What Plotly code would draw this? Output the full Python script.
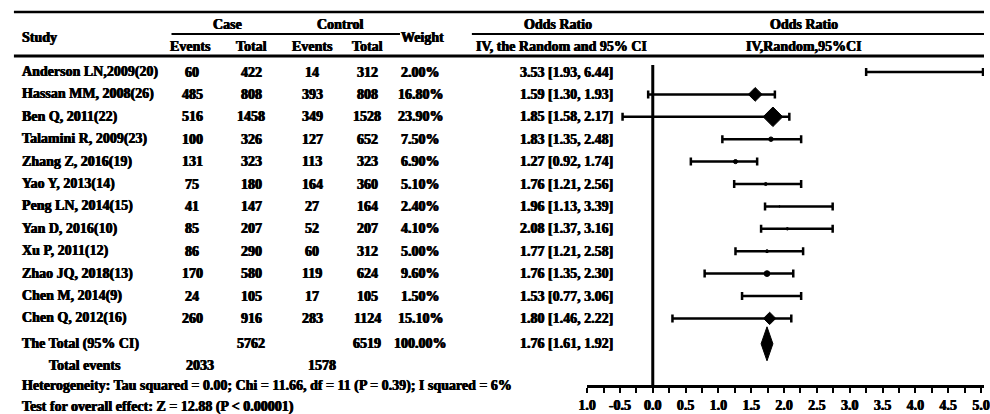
import plotly.graph_objects as go

# ---------------- data ----------------
studies = ["Anderson LN,2009(20)", "Hassan MM, 2008(26)", "Ben Q, 2011(22)",
           "Talamini R, 2009(23)", "Zhang Z, 2016(19)", "Yao Y, 2013(14)",
           "Peng LN, 2014(15)", "Yan D, 2016(10)", "Xu P, 2011(12)",
           "Zhao JQ, 2018(13)", "Chen M, 2014(9)", "Chen Q, 2012(16)"]
case_events = [60, 485, 516, 100, 131, 75, 41, 85, 86, 170, 24, 260]
case_total = [422, 808, 1458, 326, 323, 180, 147, 207, 290, 580, 105, 916]
ctrl_events = [14, 393, 349, 127, 113, 164, 27, 52, 60, 119, 17, 283]
ctrl_total = [312, 808, 1528, 652, 323, 360, 164, 207, 312, 624, 105, 1124]
weights = [2.00, 16.80, 23.90, 7.50, 6.90, 5.10, 2.40, 4.10, 5.00, 9.60, 1.50, 15.10]
or_text = ["3.53 [1.93, 6.44]", "1.59 [1.30, 1.93]", "1.85 [1.58, 2.17]",
           "1.83 [1.35, 2.48]", "1.27 [0.92, 1.74]", "1.76 [1.21, 2.56]",
           "1.96 [1.13, 3.39]", "2.08 [1.37, 3.16]", "1.77 [1.21, 2.58]",
           "1.76 [1.35, 2.30]", "1.53 [0.77, 3.06]", "1.80 [1.46, 2.22]"]
# positions as drawn in the plot panel
plot_est = [3.46, 1.56, 1.83, 1.80, 1.26, 1.72, 1.93, 2.05, 1.74, 1.74, 1.53, 1.78]
plot_lo = [3.25, -0.07, -0.46, 1.06, 0.58, 1.24, 1.71, 1.65, 1.26, 0.79, 1.36, 0.30]
plot_hi = [5.03, 1.86, 2.08, 2.26, 1.59, 2.26, 2.74, 2.74, 2.29, 2.14, 2.26, 2.11]

total_label = "The Total (95% CI)"
total_case = 5762
total_ctrl = 6519
total_weight = "100.00%"
total_or_text = "1.76 [1.61, 1.92]"
total_est, total_lo, total_hi = 1.74, 1.65, 1.83
events_case = 2033
events_ctrl = 1578
hetero_text = "Heterogeneity: Tau squared = 0.00; Chi = 11.66, df = 11 (P = 0.39); I squared = 6%"
overall_text = "Test for overall effect: Z = 12.88 (P < 0.00001)"

tick_vals = [-1.0 + 0.25 * k for k in range(25)]
tick_labels = ["1.0", "-0.5", "0.0", "0.5", "1.0", "1.5", "2.0", "2.5",
               "3.0", "3.5", "4.0", "4.5", "5.0"]

# ---------------- layout helpers ----------------
W, H = 990, 414
AXIS_Y = 385          # pixel row of the x axis
ROW0, ROWH = 72, 22.4
FONT = "Liberation Serif"
FS = 14
HEAVY = "0.4px 0 0 #000, -0.4px 0 0 #000"


def row_y(i):
    return ROW0 + ROWH * i


def px(x):
    return x / W


def py(y):
    return 1 - y / H


ann = []


def text(x, y, s, anchor="center", size=FS):
    ann.append(dict(x=px(x), y=py(y), xref="paper", yref="paper", text="<b>" + s + "</b>",
                    showarrow=False, xanchor=anchor, yanchor="middle", borderpad=0,
                    font=dict(family=FONT, size=size, color="black", shadow=HEAVY)))


COL_STUDY = 12
COL_CE, COL_CT, COL_KE, COL_KT = 186, 246, 308, 364
COL_W, COL_OR = 418, 566

# headers
text(COL_STUDY, 38, "Study", "left")
text(222, 24, "Case")
text(337, 24, "Control")
text(COL_CE - 2, 46, "Events")
text(COL_CT, 46, "Total")
text(COL_KE, 46, "Events")
text(COL_KT, 46, "Total")
text(COL_W + 2, 38, "Weight")
text(557, 24, "Odds Ratio")
text(561, 46, "IV, the Random and 95% CI")
text(807, 24, "Odds Ratio")
text(807, 46, "IV,Random,95%CI")

for i, s in enumerate(studies):
    y = row_y(i)
    text(COL_STUDY, y, s, "left")
    text(COL_CE, y, str(case_events[i]))
    text(COL_CT, y, str(case_total[i]))
    text(COL_KE, y, str(ctrl_events[i]))
    text(COL_KT, y, str(ctrl_total[i]))
    text(COL_W, y, f"{weights[i]:.2f}%")
    text(COL_OR, y, or_text[i])

ty = row_y(len(studies)) + 3
text(COL_STUDY, ty, total_label, "left")
text(COL_CT, ty, str(total_case))
text(COL_KT, ty, str(total_ctrl))
text(COL_W, ty, total_weight)
text(COL_OR, ty, total_or_text)
text(40, 365, "Total events", "left")
text(COL_CE + 8, 365, str(events_case))
text(COL_KE + 10, 365, str(events_ctrl))
text(COL_STUDY, 386, hetero_text, "left")
text(COL_STUDY, 407, overall_text, "left")

shapes = [
    dict(type="line", xref="paper", yref="paper", x0=px(5), x1=1, y0=py(12), y1=py(12),
         line=dict(color="black", width=2.5)),
    dict(type="line", xref="paper", yref="paper", x0=px(165), x1=px(397), y0=py(34), y1=py(34),
         line=dict(color="black", width=2)),
    dict(type="line", xref="paper", yref="paper", x0=px(470), x1=1, y0=py(34), y1=py(34),
         line=dict(color="black", width=2)),
    dict(type="line", xref="paper", yref="paper", x0=px(5), x1=1, y0=py(56), y1=py(56),
         line=dict(color="black", width=3)),
    # null line of the forest panel
    dict(type="line", xref="x", yref="y", x0=0, x1=0, y0=65, y1=AXIS_Y,
         line=dict(color="black", width=3)),
]

fig = go.Figure()
ys = [row_y(i) for i in range(len(studies))]
symbols = ["diamond" if w >= 15 else "circle" for w in weights]
sizes = [0.63 * w if w >= 15 else 0.6 * w for w in weights]
fig.add_trace(go.Scatter(
    x=plot_est, y=ys, mode="markers",
    marker=dict(symbol=symbols, size=sizes, color="black", opacity=1,
                line=dict(width=1, color="black")),
    error_x=dict(type="data", symmetric=False,
                 array=[h - e for h, e in zip(plot_hi, plot_est)],
                 arrayminus=[e - l for e, l in zip(plot_est, plot_lo)],
                 color="black", thickness=2.5, width=4),
    hoverinfo="skip"))
half_h = 17
fig.add_trace(go.Scatter(
    x=[total_lo, total_est, total_hi, total_est, total_lo],
    y=[ty, ty - half_h, ty, ty + half_h, ty],
    mode="lines", fill="toself", fillcolor="black",
    line=dict(color="black", width=1), hoverinfo="skip"))

fig.update_layout(
    width=W, height=H, margin=dict(l=0, r=0, t=0, b=0),
    paper_bgcolor="white", plot_bgcolor="white", showlegend=False,
    annotations=ann, shapes=shapes,
    xaxis=dict(domain=[587 / W, 1], range=[-1.0, 5.045], showgrid=False, zeroline=False,
               showline=True, linecolor="black", linewidth=2.5,
               ticks="outside", ticklen=5, tickwidth=2, tickcolor="black",
               tickvals=tick_vals, ticklabeloverflow="allow",
               ticktext=[("<b>" + tick_labels[k // 2] + "</b>") if k % 2 == 0 else "" for k in range(len(tick_vals))],
               tickfont=dict(family=FONT, size=FS, color="black", shadow=HEAVY), fixedrange=True),
    yaxis=dict(domain=[(H - AXIS_Y) / H, 1], range=[AXIS_Y, 0], visible=False, fixedrange=True),
)

fig.write_html("out.html", config={"displayModeBar": False},
               post_script="document.body.style.margin='0px';document.body.style.overflow='hidden';")
